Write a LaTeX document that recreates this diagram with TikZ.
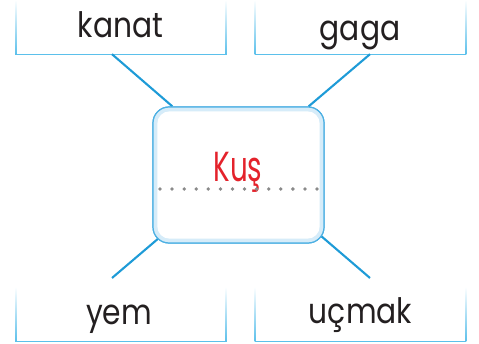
\documentclass[tikz,border=0pt]{standalone}
\usepackage{fontspec}
\newfontfamily\labfont{Poppins}[FakeStretch=0.85]
\newfontfamily\kusfont{Poppins}[FakeStretch=0.66]
\definecolor{lineblue}{HTML}{1E9BD7}
\definecolor{boxblue}{HTML}{4DB0E3}
\definecolor{bandblue}{HTML}{D6ECF9}
\definecolor{labblue}{HTML}{5BC0EB}
\definecolor{dotgray}{HTML}{8A8A8A}
\definecolor{kusred}{HTML}{E4222B}
\definecolor{txt}{HTML}{231F20}
\begin{document}
\begin{tikzpicture}[x=1pt,y=-1pt,
  labbox/.style={minimum width=210pt,minimum height=54pt,inner sep=0pt},
  labtext/.style={font=\labfont\fontsize{35}{40}\selectfont,text=txt,inner sep=0pt,anchor=base},
  kustext/.style={font=\kusfont\fontsize{42}{46}\selectfont,text=kusred,inner sep=0pt,anchor=base},
  conn/.style={draw=lineblue,line width=2.1pt},
  edge/.style={draw=labblue,line width=1.2pt},
  side/.style={top color=white,bottom color=labblue},
  birdbox/.style={draw=boxblue,fill=bandblue,line width=1.2pt,rounded corners=16pt,
    minimum width=171pt,minimum height=136pt,inner sep=0pt},
  dots/.style={draw=dotgray,line width=3.8pt,line cap=round,dash pattern=on 0pt off 12.08pt}]
\useasboundingbox (0,0) rectangle (479,344);
% label boxes
\node[labbox] (kanat) at (121,27) {};
\node[labbox] (gaga) at (360.5,27) {};
\node[labbox] (yem) at (121,314) {};
\node[labbox] (ucmak) at (360.5,314) {};
\foreach \b in {kanat,gaga,ucmak,yem}{
  \shade[side] ([xshift=-0.6pt]\b.north west) rectangle ([xshift=0.6pt]\b.south west);
  \shade[side] ([xshift=-0.6pt]\b.north east) rectangle ([xshift=0.6pt]\b.south east);
  \draw[edge] (\b.south west) -- (\b.south east);
}
\node[labtext] (tkanat) at (120.5,38) {kanat};
\node[labtext] (tgaga) at (360,41) {gaga};
\node[labtext] (tyem) at (119,325) {yem};
\node[labtext] (tucmak) at (360.5,324) {uçmak};
% central box
\node[birdbox] (bird) at (238.5,175) {};
\coordinate (yemend) at (112,278);
\coordinate (ucmakend) at (370,278);
\draw[conn] ([xshift=-9pt]kanat.south) -- ([xshift=20pt]bird.north west);
\draw[conn] ([xshift=9.5pt]gaga.south) -- ([xshift=-16pt]bird.north east);
\draw[conn] (yemend) -- ([shift={(7,-6)}]bird.south west);
\draw[conn] (ucmakend) -- ([shift={(-4,-8)}]bird.south east);
\node[birdbox] (bird2) at (238.5,175) {};
\fill[white,rounded corners=12pt] ([shift={(5,5)}]bird2.north west) rectangle ([shift={(-5,-5)}]bird2.south east);
\node[kustext] (kus) at (238,182) {Kuş};
\draw[dots] (160,189) -- (317.5,189);
\end{tikzpicture}
\end{document}
